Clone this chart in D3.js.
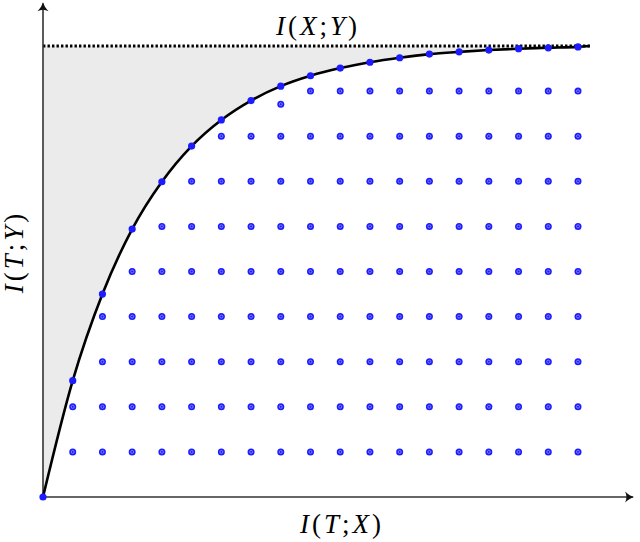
<!DOCTYPE html>
<html>
<head>
<meta charset="UTF-8">
<title>information plane</title>
<style>
    body {
        margin: 0;
        background: #fff;
    }
    text.label {
        font-family: "Liberation Serif", "DejaVu Serif", serif;
        font-size: 27px;
        letter-spacing: 3px;
        fill: #000;
    }
    text.label tspan.v {
        font-style: italic;
    }
    path.axis {
        stroke: #333;
        stroke-width: 1.6;
        fill: none;
    }
    path.bound {
        fill: #ebebeb;
    }
    path.curve {
        fill: none;
        stroke: #000;
        stroke-width: 2.6;
    }
    line.limit {
        stroke: #000;
        stroke-width: 3;
        stroke-dasharray: 2.4,2.1;
    }
    circle.pt {
        fill: #1c1cff;
    }
    circle.ring {
        fill: none;
        stroke: #a0a0ff;
        stroke-width: 0.7;
    }
</style>
</head>
<body>
<script src="https://d3js.org/d3.v7.min.js"></script>
<script>
    // the curve I(T;Y) as function of I(T;X), one value per column
    var curveX = [0, 1, 2, 3, 4, 5, 6, 7, 8, 9, 10, 11, 12, 13, 14, 15, 16, 17, 18, 18.4];
    var curveY = [0, 0.258, 0.450, 0.594, 0.699, 0.778, 0.836, 0.879, 0.911, 0.934,
                  0.951, 0.964, 0.974, 0.982, 0.987, 0.991, 0.994, 0.996, 0.998, 1.0];
    var gridCols = [1, 2, 3, 4, 5, 6, 7, 8, 9, 10, 11, 12, 13, 14, 15, 16, 17, 18];
    var gridRows = [0.1, 0.2, 0.3, 0.4, 0.5, 0.6, 0.7, 0.8, 0.9];
    // column 8 has its top dot pushed below the curve
    var shiftedCol = 8, shiftedFrom = 0.9, shiftedTo = 0.871;
    var limit = 1.0;   // I(X;Y)

    var width = 640, height = 542;

    var x = d3.scaleLinear().domain([0, 18]).range([43, 578]);
    var y = d3.scaleLinear().domain([0, 1]).range([497, 46]);

    var svg = d3.select("body").append("svg")
            .attr("width", width)
            .attr("height", height);

    var defs = svg.append("defs");
    defs.append("marker")
            .attr("id", "arrow")
            .attr("viewBox", "-10 -6 12 12")
            .attr("refX", 0)
            .attr("refY", 0)
            .attr("markerWidth", 12)
            .attr("markerHeight", 12)
            .attr("markerUnits", "userSpaceOnUse")
            .attr("orient", "auto")
            .append("path")
            .attr("d", "M-8,-5.5 Q-3,-1 1,0 Q-3,1 -8,5.5 Q-5,0 -8,-5.5Z")
            .attr("fill", "#111");

    var pts = curveX.map(function (d, i) { return {x: d, y: curveY[i]}; });

    // shaded region between the curve and I(X;Y)
    svg.append("path")
            .attr("class", "bound")
            .datum(pts)
            .attr("d", d3.area()
                .x(function (d) { return x(d.x); })
                .y0(y(limit))
                .y1(function (d) { return y(d.y); })
                .curve(d3.curveMonotoneX));

    svg.append("line")
            .attr("class", "limit")
            .attr("x1", x(0))
            .attr("x2", x(curveX[curveX.length - 1]))
            .attr("y1", y(limit))
            .attr("y2", y(limit));

    // axes with arrows
    svg.append("path")
            .attr("class", "axis")
            .attr("d", "M" + x(0) + "," + y(0) + "L" + x(0) + "," + y(1.095))
            .attr("marker-end", "url(#arrow)");
    svg.append("path")
            .attr("class", "axis")
            .attr("d", "M" + x(0) + "," + y(0) + "L" + x(19.85) + "," + y(0))
            .attr("marker-end", "url(#arrow)");

    // grid of achievable points
    var grid = [];
    gridCols.forEach(function (c) {
        gridRows.forEach(function (r) {
            if (r < curveY[curveX.indexOf(c)]) {
                var v = (c === shiftedCol && r === shiftedFrom) ? shiftedTo : r;
                grid.push({x: c, y: v});
            }
        });
    });

    var g = svg.append("g").selectAll("g.dot")
            .data(grid)
            .enter().append("g")
            .attr("class", "dot")
            .attr("transform", function (d) { return "translate(" + x(d.x) + "," + y(d.y) + ")"; });
    g.append("circle").attr("class", "pt").attr("r", 3.5);
    g.append("circle").attr("class", "ring").attr("r", 1.5);

    svg.append("path")
            .attr("class", "curve")
            .datum(pts)
            .attr("d", d3.line()
                .x(function (d) { return x(d.x); })
                .y(function (d) { return y(d.y); })
                .curve(d3.curveMonotoneX));

    svg.append("g").selectAll("circle")
            .data(pts.filter(function (d) { return gridCols.indexOf(d.x) >= 0 || d.x === 0; }))
            .enter().append("circle")
            .attr("class", "pt")
            .attr("cx", function (d) { return x(d.x); })
            .attr("cy", function (d) { return y(d.y); })
            .attr("r", 3.6);

    function label(parts, tx, ty, rot) {
        var t = svg.append("text")
                .attr("class", "label")
                .attr("text-anchor", "middle")
                .attr("transform", "translate(" + tx + "," + ty + ")" + (rot ? " rotate(" + rot + ")" : ""));
        parts.forEach(function (p) {
            t.append("tspan").attr("class", p[1] ? "v" : null).text(p[0]);
        });
    }

    label([["I", 1], ["(", 0], ["X", 1], [";", 0], ["Y", 1], [")", 0]], 318, 35);
    label([["I", 1], ["(", 0], ["T", 1], [";", 0], ["X", 1], [")", 0]], 342, 533);
    label([["I", 1], ["(", 0], ["T", 1], [";", 0], ["Y", 1], [")", 0]], 23, 252, -90);
</script>
</body>
</html>
